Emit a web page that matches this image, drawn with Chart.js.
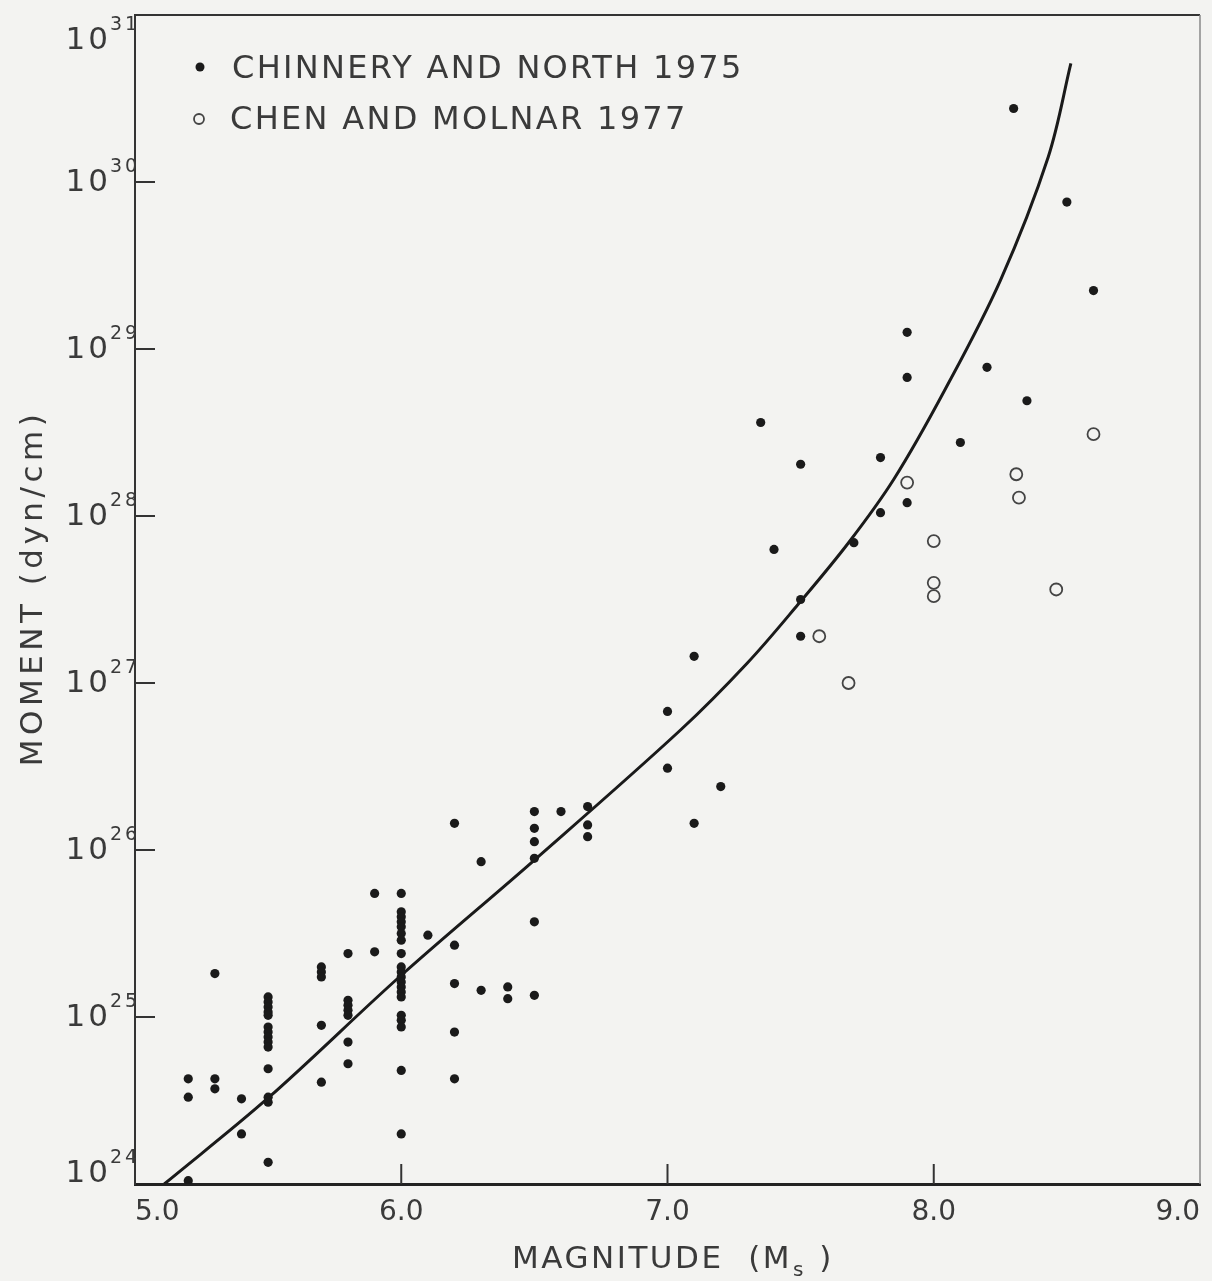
<!DOCTYPE html>
<html>
<head>
<meta charset="utf-8">
<script src="https://cdn.jsdelivr.net/npm/chart.js@4.4.1/dist/chart.umd.min.js"></script>
<style>
  html, body { margin: 0; padding: 0; background: #f3f3f1; }
  #wrap { width: 1212px; height: 1281px; }
</style>
</head>
<body>
<div id="wrap"><canvas id="chart"></canvas></div>
<script>
// ===============================
// Data (magnitude Ms, log10 of moment in dyn-cm)
// ===============================
const chinneryMs = [
  5.2, 5.2, 5.2,
  5.3, 5.3, 5.3,
  5.4, 5.4,
  5.5, 5.5, 5.5, 5.5, 5.5, 5.5, 5.5, 5.5, 5.5, 5.5, 5.5, 5.5, 5.5, 5.5,
  5.7, 5.7, 5.7, 5.7, 5.7,
  5.8, 5.8, 5.8, 5.8, 5.8, 5.8, 5.8,
  5.9, 5.9,
  6.0, 6.0, 6.0, 6.0, 6.0, 6.0, 6.0, 6.0, 6.0, 6.0, 6.0, 6.0, 6.0, 6.0, 6.0, 6.0, 6.0, 6.0, 6.0, 6.0,
  6.1,
  6.2, 6.2, 6.2, 6.2, 6.2,
  6.3, 6.3,
  6.4, 6.4,
  6.5, 6.5, 6.5, 6.5, 6.5, 6.5,
  6.6,
  6.7, 6.7, 6.7,
  7.0, 7.0,
  7.1, 7.1,
  7.2,
  7.35, 7.4,
  7.5, 7.5, 7.5,
  7.7,
  7.8, 7.8,
  7.9, 7.9, 7.9,
  8.1, 8.2, 8.3, 8.35, 8.5, 8.6
];
const chinneryLogM0 = [
  24.63, 24.52, 24.02,
  25.26, 24.63, 24.57,
  24.51, 24.30,
  25.12, 25.09, 25.06, 25.03, 25.01, 24.94, 24.91, 24.88, 24.85, 24.82, 24.69, 24.52, 24.49, 24.13,
  25.30, 25.27, 25.24, 24.95, 24.61,
  25.38, 25.10, 25.07, 25.04, 25.01, 24.85, 24.72,
  25.74, 25.39,
  25.74, 25.63, 25.60, 25.57, 25.54, 25.50, 25.46, 25.38, 25.30, 25.27, 25.24, 25.21, 25.18, 25.15, 25.12, 25.01, 24.98, 24.94, 24.68, 24.30,
  25.49,
  26.16, 25.43, 25.20, 24.91, 24.63,
  25.93, 25.16,
  25.18, 25.11,
  26.23, 26.13, 26.05, 25.95, 25.57, 25.13,
  26.23,
  26.26, 26.15, 26.08,
  26.83, 26.49,
  27.16, 26.16,
  26.38,
  28.56, 27.80,
  28.31, 27.50, 27.28,
  27.84,
  28.35, 28.02,
  29.10, 28.83, 28.08,
  28.44, 28.89, 30.44, 28.69, 29.88, 29.35
];

const chenMs = [7.57, 7.68, 7.9, 8.0, 8.0, 8.0, 8.31, 8.32, 8.46, 8.6];
const chenLogM0 = [27.28, 27.00, 28.20, 27.85, 27.60, 27.52, 28.25, 28.11, 27.56, 28.49];

// fitted curve
const curveMs = [5.11, 5.5, 6.0, 6.5, 7.05, 7.3, 7.49, 7.68, 7.85, 8.04, 8.25, 8.43, 8.515];
const curveLogM0 = [24.0, 24.515, 25.25, 25.94, 26.72, 27.12, 27.47, 27.84, 28.22, 28.75, 29.41, 30.15, 30.71];

const xTicks = [5, 6, 7, 8, 9];
const yExponents = [24, 25, 26, 27, 28, 29, 30, 31];

const legendItems = ["CHINNERY AND NORTH 1975", "CHEN AND MOLNAR 1977"];
const xTitle = "MAGNITUDE";
const yTitle = "MOMENT (dyn/cm)";

const toPoints = (xs, logs) => xs.map((x, i) => ({ x: x, y: Math.pow(10, logs[i]) }));

const FONT = '"DejaVu Sans", sans-serif';
const INK = "#1a1a1a";
const TEXT = "#3a3a3a";

// ===============================
// Plugin: frame, inward ticks, labels, legend
// ===============================
const decor = {
  id: "decor",
  beforeDraw(chart) {
    const ctx = chart.ctx;
    ctx.save();
    ctx.fillStyle = "#f3f3f1";
    ctx.fillRect(0, 0, chart.width, chart.height);
    ctx.restore();
  },
  afterDraw(chart) {
    const ctx = chart.ctx;
    const a = chart.chartArea;
    const xs = chart.scales.x;
    const ys = chart.scales.y;
    ctx.save();

    // top + right frame
    ctx.strokeStyle = "#333";
    ctx.lineWidth = 2;
    ctx.beginPath();
    ctx.moveTo(a.left, a.top);
    ctx.lineTo(a.right, a.top);
    ctx.stroke();
    ctx.strokeStyle = "#888";
    ctx.lineWidth = 1.5;
    ctx.beginPath();
    ctx.moveTo(a.right, a.top);
    ctx.lineTo(a.right, a.bottom);
    ctx.stroke();

    // inward ticks
    ctx.strokeStyle = "#333";
    ctx.lineWidth = 2;
    yExponents.slice(1, -1).forEach(e => {
      const y = ys.getPixelForValue(Math.pow(10, e));
      ctx.beginPath();
      ctx.moveTo(a.left, y);
      ctx.lineTo(a.left + 20, y);
      ctx.stroke();
    });
    xTicks.slice(1, -1).forEach(v => {
      const x = xs.getPixelForValue(v);
      ctx.beginPath();
      ctx.moveTo(x, a.bottom);
      ctx.lineTo(x, a.bottom - 20);
      ctx.stroke();
    });

    // y tick labels 10^n
    ctx.fillStyle = TEXT;
    ctx.textBaseline = "middle";
    ctx.letterSpacing = "3px";
    yExponents.forEach(e => {
      let y = ys.getPixelForValue(Math.pow(10, e));
      y = Math.min(Math.max(y, 40), 1173);
      ctx.font = "31px " + FONT;
      ctx.textAlign = "right";
      ctx.fillText("10", 111, y + 1);
      ctx.font = "19px " + FONT;
      ctx.textAlign = "left";
      ctx.fillText(String(e), 110, y - 15);
    });

    // x title with subscript
    ctx.textAlign = "left";
    ctx.textBaseline = "alphabetic";
    ctx.letterSpacing = "2.5px";
    ctx.font = "31px " + FONT;
    const part1 = xTitle + "  (M";
    const w1 = ctx.measureText(part1).width;
    ctx.font = "20px " + FONT;
    const ws = ctx.measureText("s").width;
    ctx.font = "31px " + FONT;
    const w2 = ctx.measureText(" )").width;
    let tx = 672 - (w1 + ws + w2) / 2;
    ctx.fillText(part1, tx, 1268);
    ctx.font = "20px " + FONT;
    ctx.fillText("s", tx + w1 + 1, 1276);
    ctx.font = "31px " + FONT;
    ctx.fillText(" )", tx + w1 + ws + 2, 1268);

    // y title
    ctx.save();
    ctx.translate(42, 588);
    ctx.rotate(-Math.PI / 2);
    ctx.textAlign = "center";
    ctx.textBaseline = "alphabetic";
    ctx.font = "31px " + FONT;
    ctx.letterSpacing = "4.5px";
    ctx.fillText(yTitle, 0, 0);
    ctx.restore();

    // legend
    ctx.font = "32px " + FONT;
    ctx.textAlign = "left";
    ctx.textBaseline = "middle";
    ctx.letterSpacing = "2.3px";
    ctx.fillStyle = INK;
    ctx.beginPath();
    ctx.arc(200, 67, 4.5, 0, Math.PI * 2);
    ctx.fill();
    ctx.fillStyle = TEXT;
    ctx.fillText(legendItems[0], 232, 70);
    ctx.strokeStyle = "#444";
    ctx.lineWidth = 1.8;
    ctx.beginPath();
    ctx.arc(199, 119, 5, 0, Math.PI * 2);
    ctx.stroke();
    ctx.fillText(legendItems[1], 230, 121);

    ctx.restore();
  }
};

// ===============================
// Chart
// ===============================
const chart = new Chart(document.getElementById("chart"), {
  type: "scatter",
  data: {
    datasets: [
      {
        type: "line",
        label: "fit",
        data: toPoints(curveMs, curveLogM0),
        borderColor: INK,
        borderWidth: 3,
        pointRadius: 0,
        fill: false,
        tension: 0.35
      },
      {
        label: legendItems[0],
        data: toPoints(chinneryMs, chinneryLogM0),
        backgroundColor: INK,
        borderColor: INK,
        borderWidth: 0,
        pointRadius: 4.6
      },
      {
        label: legendItems[1],
        data: toPoints(chenMs, chenLogM0),
        backgroundColor: "rgba(0,0,0,0)",
        borderColor: "#444",
        borderWidth: 1.8,
        pointRadius: 6
      }
    ]
  },
  options: {
    responsive: true,
    maintainAspectRatio: false,
    animation: false,
    events: [],
    layout: { padding: { top: 15, right: 0, left: 0, bottom: 0 } },
    plugins: { legend: { display: false }, tooltip: { enabled: false } },
    scales: {
      x: {
        type: "linear",
        min: 5,
        max: 9,
        afterBuildTicks: s => { s.ticks = xTicks.map(v => ({ value: v })); },
        afterFit: s => { s.height = 97; },
        grid: { display: false, drawTicks: false },
        border: { display: true, color: "#222", width: 3 },
        ticks: {
          align: "inner",
          padding: 12,
          color: TEXT,
          font: { family: FONT, size: 28 },
          callback: v => Number(v).toFixed(1)
        }
      },
      y: {
        type: "logarithmic",
        min: 1e24,
        max: 1e31,
        afterFit: s => { s.width = 135; },
        grid: { display: false, drawTicks: false },
        border: { display: true, color: "#333", width: 2 },
        ticks: { display: false }
      }
    }
  },
  plugins: [decor]
});
</script>
</body>
</html>
